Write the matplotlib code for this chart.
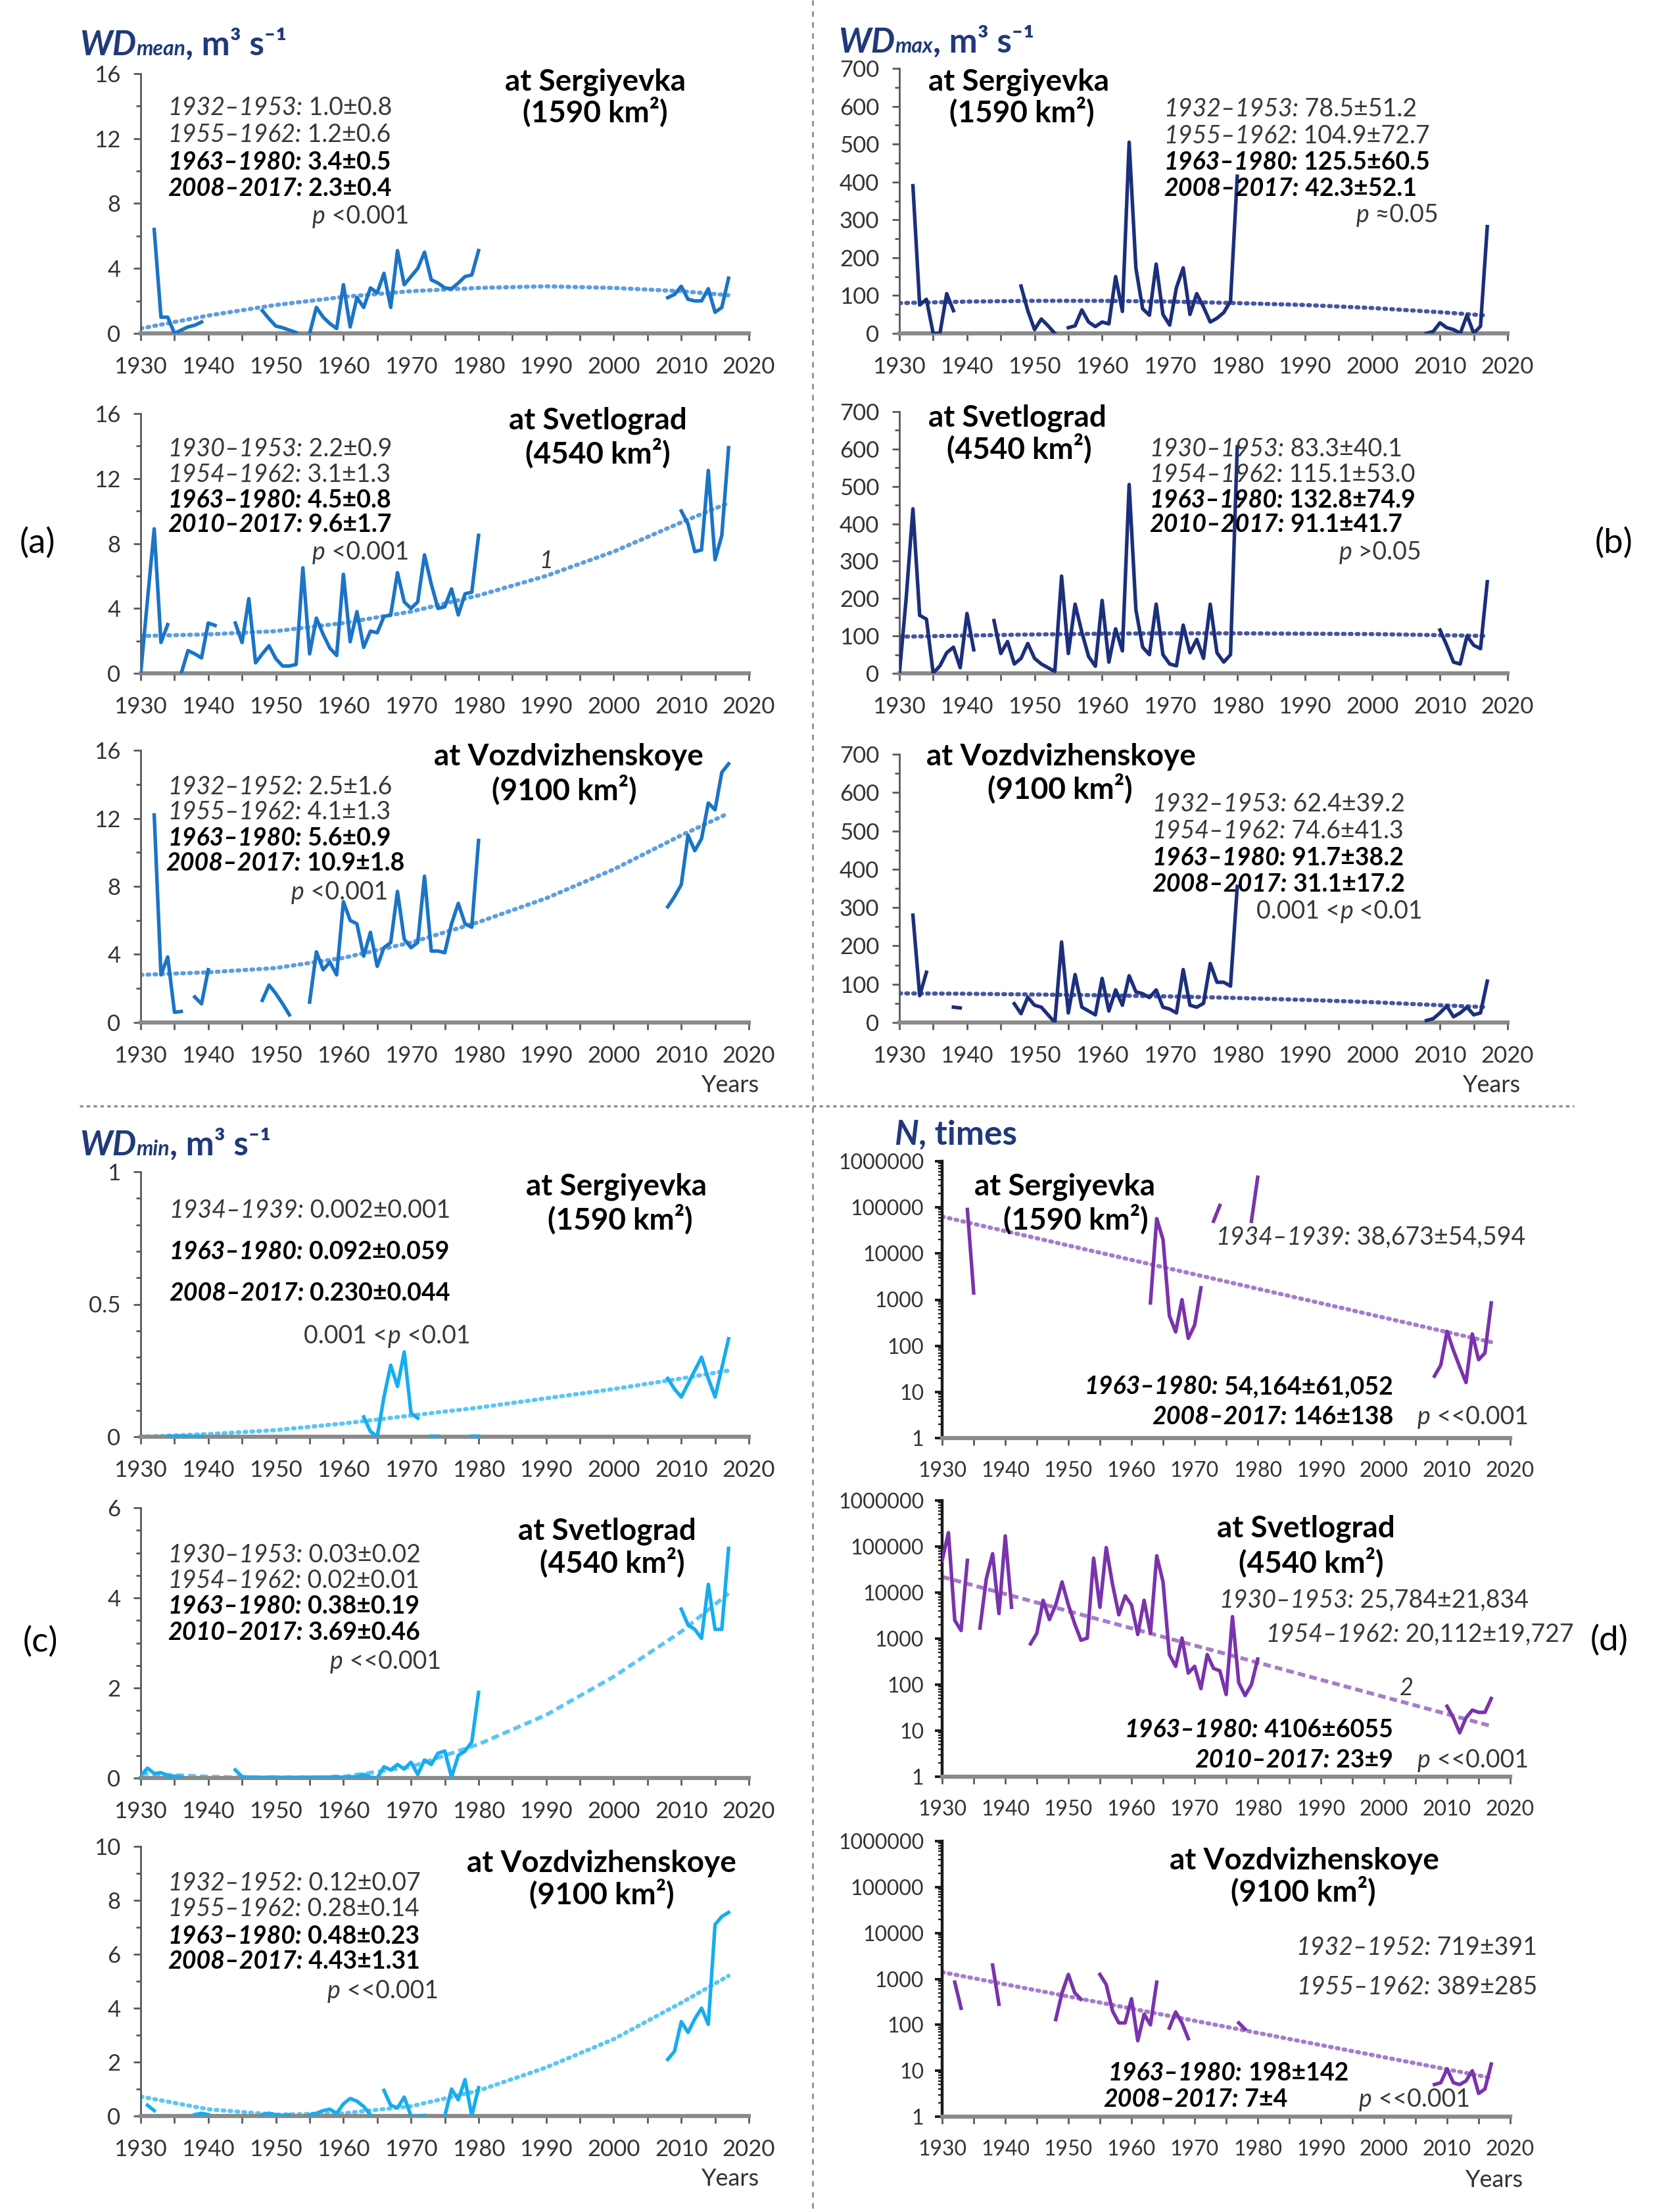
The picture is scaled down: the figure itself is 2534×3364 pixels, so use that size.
import numpy as np
import matplotlib
matplotlib.use("Agg")
import matplotlib.pyplot as plt
from matplotlib.offsetbox import TextArea, HPacker, AnnotationBbox
from matplotlib.ticker import MultipleLocator, FuncFormatter, LogLocator, NullFormatter

nan = np.nan
W, H, DPI = 2534, 3364, 100
FAM = ['Lato', 'DejaVu Sans']
plt.rcParams['font.family'] = FAM

# ---------------- data ----------------
EARLY_YEARS = list(range(1930, 1981))
LATE_YEARS = list(range(2008, 2018))
TREND_YEARS = [1930, 1940, 1950, 1960, 1970, 1980, 1990, 2000, 2010, 2017]
LOG_TREND_YEARS = [1930, 2017]

# (a) WDmean, m3/s
wdmean_serg_early = [nan, nan, 6.4, 1.0, 1.0, 0.0, 0.2, 0.4, 0.5, 0.7,
                     nan, nan, nan, nan, nan, nan, nan, nan, 1.4, 0.9,
                     0.45, 0.35, 0.2, 0.05, nan, 0.0, 1.6, 1.0, 0.6, 0.3,
                     3.0, 0.4, 2.2, 1.6, 2.8, 2.5, 3.7, 1.6, 5.1, 3.0,
                     3.5, 4.0, 5.0, 3.3, 3.1, 2.8, 2.75, 3.1, 3.5, 3.6, 5.1]
wdmean_serg_late = [2.2, 2.4, 2.9, 2.1, 2.0, 2.0, 2.75, 1.3, 1.6, 3.4]
wdmean_serg_trend = [0.3, 1.1, 1.75, 2.25, 2.6, 2.8, 2.9, 2.8, 2.6, 2.35]

wdmean_svet_early = [0.0, 4.5, 8.9, 1.9, 3.0, nan, 0.0, 1.4, 1.2, 0.95,
                     3.1, 2.95, nan, nan, 3.1, 1.9, 4.6, 0.65, 1.2, 1.7,
                     0.9, 0.45, 0.45, 0.55, 6.5, 1.2, 3.4, 2.4, 1.55, 1.1,
                     6.1, 1.95, 3.8, 1.6, 2.6, 2.5, 3.5, 3.6, 6.2, 4.4,
                     4.0, 4.4, 7.3, 5.5, 4.0, 4.1, 5.2, 3.6, 4.9, 5.0, 8.5]
wdmean_svet_late = [nan, nan, 10.0, 9.2, 7.5, 7.6, 12.5, 7.0, 8.5, 13.9]
wdmean_svet_trend = [2.3, 2.4, 2.6, 3.1, 3.8, 4.8, 6.0, 7.5, 9.3, 10.5]

wdmean_vozd_early = [nan, nan, 12.2, 2.8, 3.85, 0.6, 0.65, nan, 1.5, 1.1,
                     3.1, nan, nan, nan, nan, nan, nan, nan, 1.3, 2.2,
                     1.7, 1.1, 0.45, nan, nan, 1.2, 4.15, 3.1, 3.55, 2.8,
                     7.1, 6.0, 5.8, 3.9, 5.3, 3.3, 4.4, 4.7, 7.7, 4.9,
                     4.4, 4.7, 8.6, 4.2, 4.2, 4.1, 5.8, 7.0, 5.8, 5.6, 10.7]
wdmean_vozd_late = [6.8, 7.4, 8.1, 11.0, 10.1, 10.8, 12.9, 12.5, 14.7, 15.2]
wdmean_vozd_trend = [2.8, 2.95, 3.2, 3.8, 4.7, 5.9, 7.3, 9.0, 11.0, 12.3]

# (b) WDmax, m3/s
wdmax_serg_early = [nan, nan, 390, 75, 90, 0, 0, 105, 60, nan,
                    nan, nan, nan, nan, nan, nan, nan, nan, 125, 60,
                    10, 38, 20, 0, nan, 15, 20, 62, 30, 18,
                    30, 25, 150, 58, 505, 172, 65, 48, 183, 50,
                    22, 121, 173, 50, 105, 70, 30, 40, 55, 85, 415]
wdmax_serg_late = [0, 5, 28, 15, 10, 0, 48, 0, 19, 282]
wdmax_serg_trend = [80, 84, 86, 86, 84, 80, 75, 67, 56, 47]

wdmax_svet_early = [0, 200, 440, 155, 145, 0, 20, 55, 70, 15,
                    160, 63, nan, nan, 141, 53, 85, 25, 40, 80,
                    40, 25, 15, 5, 260, 53, 185, 110, 45, 19,
                    195, 30, 119, 60, 505, 170, 70, 50, 185, 50,
                    25, 20, 129, 55, 91, 40, 185, 55, 30, 50, 606]
wdmax_svet_late = [nan, nan, 116, 75, 30, 25, 100, 75, 66, 245]
wdmax_svet_trend = [98, 101, 104, 106, 107, 107, 106, 105, 102, 100]

wdmax_vozd_early = [nan, nan, 280, 70, 131, nan, nan, nan, 40, 38,
                    nan, nan, nan, nan, nan, nan, nan, 49, 23, 66,
                    45, 40, 20, 0, 210, 25, 125, 40, 30, 20,
                    115, 30, 85, 45, 122, 80, 75, 65, 85, 40,
                    35, 25, 138, 45, 40, 50, 154, 105, 105, 95, 355]
wdmax_vozd_late = [5, 10, 25, 43, 15, 25, 40, 20, 25, 108]
wdmax_vozd_trend = [76, 75, 73, 71, 68, 64, 59, 53, 45, 40]

# (c) WDmin, m3/s
wdmin_serg_early = [nan, nan, nan, nan, 0.002, 0.002, 0.003, 0.002, 0.001, 0.002,
                    nan, nan, nan, nan, nan, nan, nan, nan, nan, nan,
                    nan, nan, nan, nan, nan, nan, nan, nan, nan, nan,
                    nan, nan, nan, 0.075, 0.02, 0.0, 0.15, 0.27, 0.19, 0.32,
                    0.09, 0.07, nan, 0.002, 0.002, nan, nan, nan, nan, 0.002, 0.002]
wdmin_serg_late = [0.22, 0.18, 0.15, 0.20, 0.25, 0.30, 0.22, 0.15, 0.26, 0.37]
wdmin_serg_trend = [0.0, 0.01, 0.025, 0.05, 0.08, 0.11, 0.145, 0.18, 0.22, 0.25]

wdmin_svet_early = [0.05, 0.22, 0.1, 0.12, 0.05, 0.04, 0.02, nan, nan, nan,
                    nan, nan, nan, nan, 0.18, 0.03, 0.02, 0.02, 0.01, 0.02,
                    0.02, 0.01, 0.02, 0.01, 0.02, 0.01, 0.02, 0.01, 0.02, 0.03,
                    0.01, 0.03, 0.02, 0.08, 0.02, 0.0, 0.25, 0.18, 0.3, 0.2,
                    0.35, 0.08, 0.4, 0.3, 0.55, 0.6, 0.02, 0.5, 0.6, 0.8, 1.9]
wdmin_svet_late = [nan, nan, 3.75, 3.4, 3.3, 3.1, 4.3, 3.3, 3.3, 5.1]
wdmin_svet_trend = [0.1, 0.03, 0.0, 0.03, 0.25, 0.75, 1.4, 2.25, 3.25, 4.1]

wdmin_vozd_early = [nan, 0.4, 0.2, nan, nan, nan, nan, nan, 0.05, 0.1,
                    0.05, nan, nan, nan, nan, nan, nan, nan, 0.05, 0.1,
                    0.05, 0.02, 0.05, nan, nan, 0.05, 0.1, 0.2, 0.25, 0.1,
                    0.45, 0.65, 0.55, 0.35, 0.05, nan, 0.95, 0.4, 0.3, 0.7,
                    0.0, 0.0, 0.02, nan, nan, 0.0, 1.0, 0.6, 1.35, 0.0, 1.05]
wdmin_vozd_late = [2.1, 2.4, 3.5, 3.1, 3.6, 4.0, 3.4, 7.1, 7.4, 7.55]
wdmin_vozd_trend = [0.72, 0.25, 0.05, 0.1, 0.36, 0.94, 1.8, 2.85, 4.2, 5.2]

# (d) N, times
n_serg_early = [nan, nan, nan, nan, 90000, 1400, nan, nan, nan, nan,
                nan, nan, nan, nan, nan, nan, nan, nan, nan, nan,
                nan, nan, nan, nan, nan, nan, nan, nan, nan, nan,
                nan, nan, nan, 850, 57000, 20000, 450, 200, 1000, 145,
                280, 1800, nan, 50000, 110000, nan, nan, nan, nan, 50000, 450000]
n_serg_late = [22, 38, 205, 80, 35, 16, 180, 50, 70, 850]
n_serg_trend = [63000, 120]

n_svet_early = [50000, 200000, 2500, 1500, 50000, nan, 1700, 20000, 70000, 3500,
                170000, 4800, nan, nan, 770, 1300, 6800, 2600, 5400, 17000,
                5400, 2100, 920, 1030, 56000, 4800, 95000, 15000, 3300, 8500,
                5400, 1230, 6800, 1300, 63000, 17000, 450, 250, 1030, 178,
                250, 82, 450, 225, 200, 61, 3000, 110, 58, 100, 360]
n_svet_late = [nan, nan, 34, 19, 9, 19, 28, 25, 25, 50]
n_svet_trend = [22000, 12.6]

n_vozd_early = [nan, nan, 850, 230, nan, nan, nan, nan, 2000, 280,
                nan, nan, nan, nan, nan, nan, nan, nan, 130, 500,
                1250, 500, 360, nan, nan, 1250, 750, 200, 110, 110,
                370, 45, 170, 100, 850, nan, 85, 190, 110, 50,
                nan, nan, nan, nan, nan, nan, nan, 110, 80, nan, nan]
n_vozd_late = [5, 5.5, 11, 5.5, 5, 6, 10, 3.2, 4, 14]
n_vozd_trend = [1400, 7]

# ---------------- style ----------------
C_A, T_A = '#1b74c6', '#5d9fde'
C_B, T_B = '#1c2f7c', '#4656a0'
C_C, T_C = '#16adef', '#5cc6f3'
C_D, T_D = '#7a33ac', '#a67ccb'
NAVY = '#1f3a7a'
GRAY = '#383838'
STAT_SIZE = 27
STATION_SIZE = 33

fig = plt.figure(figsize=(W / DPI, H / DPI), dpi=DPI)
fig.patch.set_facecolor('white')
bg = fig.add_axes([0, 0, 1, 1], zorder=5)
bg.set_xlim(0, W)
bg.set_ylim(H, 0)
bg.axis('off')


def new_ax(xr, yr):
    x0, x1 = xr
    yt, yb = yr
    return fig.add_axes([x0 / W, 1 - yb / H, (x1 - x0) / W, (yb - yt) / H])


def style(ax, ylim, major=None, minor=None, log=False, labsize=25):
    ax.set_xlim(1930, 2020)
    ax.patch.set_alpha(0)
    for s in ('top', 'right'):
        ax.spines[s].set_visible(False)
    ax.spines['bottom'].set_color('#8a8a8a')
    ax.spines['bottom'].set_linewidth(4.5)
    ax.spines['left'].set_color('#1a1a1a' if log else '#595959')
    ax.spines['left'].set_linewidth(3.2 if log else 2)
    ax.xaxis.set_major_locator(MultipleLocator(10))
    ax.xaxis.set_minor_locator(MultipleLocator(5))
    ax.tick_params(axis='x', which='both', direction='out', length=8, width=2,
                   color='#595959', pad=17, labelsize=labsize, labelcolor='#333333')
    if log:
        ax.set_yscale('log')
        ax.set_ylim(*ylim)
        ax.yaxis.set_major_locator(LogLocator(base=10, numticks=10))
        ax.yaxis.set_minor_locator(LogLocator(base=10, subs=np.arange(2, 10), numticks=10))
        ax.yaxis.set_minor_formatter(NullFormatter())
        ax.yaxis.set_major_formatter(FuncFormatter(lambda v, p: f'{int(round(v))}'))
        ax.tick_params(axis='y', which='major', direction='out', length=8, width=2.8,
                       color='#1a1a1a', pad=12, labelsize=labsize, labelcolor='#333333')
        ax.tick_params(axis='y', which='minor', direction='out', length=4, width=1.6,
                       color='#1a1a1a')
    else:
        ax.set_ylim(*ylim)
        ax.yaxis.set_major_locator(MultipleLocator(major))
        ax.yaxis.set_minor_locator(MultipleLocator(minor))
        ax.yaxis.set_major_formatter(FuncFormatter(lambda v, p: f'{v:g}'))
        ax.tick_params(axis='y', which='major', direction='out', length=8, width=2,
                       color='#595959', pad=14, labelsize=labsize, labelcolor='#333333')
        ax.tick_params(axis='y', which='minor', direction='out', length=5, width=2,
                       color='#595959')


def draw(ax, early, late, trend, color, tcolor, trend_years=TREND_YEARS, dashed=False):
    xs = EARLY_YEARS + [1994] + LATE_YEARS
    ys = list(early) + [nan] + list(late)
    if dashed:
        ax.plot(trend_years, trend, color=tcolor, lw=4.2, linestyle=(0, (2.0, 1.1)),
                dash_capstyle='butt', zorder=2)
    else:
        ax.plot(trend_years, trend, color=tcolor, lw=4.6, linestyle=(0, (0.4, 1.25)),
                dash_capstyle='round', zorder=2)
    ax.plot(xs, ys, color=color, lw=3.9, zorder=3, solid_joinstyle='round')


def rich(parts, x, y, ha='left', size=STAT_SIZE):
    areas = []
    for t, p in parts:
        props = dict(family=FAM, color=GRAY, fontsize=size)
        props.update(p)
        areas.append(TextArea(t, textprops=props))
    box = HPacker(children=areas, align='baseline', pad=0, sep=0)
    bx = {'left': 0.0, 'right': 1.0, 'center': 0.5}[ha]
    ab = AnnotationBbox(box, (x, y), xycoords='data', box_alignment=(bx, 0.5),
                        frameon=False, pad=0, annotation_clip=False)
    bg.add_artist(ab)


def stat(period, value, bold, x, y, ha='left', size=STAT_SIZE):
    col = '#000000' if bold else GRAY
    w = 'bold' if bold else 'normal'
    rich([(period, dict(style='italic', weight=w, color=col)),
          (' ' + value, dict(weight=w, color=col))], x, y, ha=ha, size=size)


def pline(pre, post, x, y, ha='right', size=STAT_SIZE):
    parts = []
    if pre:
        parts.append((pre, dict()))
    parts.append(('p', dict(style='italic')))
    parts.append((post, dict()))
    rich(parts, x, y, ha=ha, size=size)


def station(name, area, x, y1, y2, x2=None, size=STATION_SIZE):
    bg.text(x, y1, name, ha='center', va='center', fontsize=size, weight='bold', color='black')
    bg.text(x2 if x2 is not None else x, y2, area, ha='center', va='center',
            fontsize=size, weight='bold', color='black')


def ylabel(main, sub, rest, x, y):
    parts = [(main, dict(weight='bold', style='italic', color=NAVY, fontsize=37))]
    if sub:
        parts.append((sub, dict(weight='bold', style='italic', color=NAVY, fontsize=23)))
    parts.append((rest, dict(weight='bold', color=NAVY, fontsize=37)))
    rich(parts, x, y, ha='left')


LEFT_X = (214, 1139)
B_X = (1368, 2293)
D_X = (1433, 2297)

# ---------- (a) ----------
ax = new_ax(LEFT_X, (112, 507))
style(ax, (0, 16), 4, 2)
draw(ax, wdmean_serg_early, wdmean_serg_late, wdmean_serg_trend, C_A, T_A)
ax = new_ax(LEFT_X, (629, 1024))
style(ax, (0, 16), 4, 2)
draw(ax, wdmean_svet_early, wdmean_svet_late, wdmean_svet_trend, C_A, T_A)
ax.text(1990, 6.9, '1', fontsize=26, style='italic', color=GRAY, ha='center', va='center')
ax = new_ax(LEFT_X, (1141, 1555))
style(ax, (0, 16), 4, 2)
draw(ax, wdmean_vozd_early, wdmean_vozd_late, wdmean_vozd_trend, C_A, T_A)

# ---------- (b) ----------
ax = new_ax(B_X, (104, 507))
style(ax, (0, 700), 100, 50)
draw(ax, wdmax_serg_early, wdmax_serg_late, wdmax_serg_trend, C_B, T_B)
ax = new_ax(B_X, (626, 1024))
style(ax, (0, 700), 100, 50)
draw(ax, wdmax_svet_early, wdmax_svet_late, wdmax_svet_trend, C_B, T_B)
ax = new_ax(B_X, (1147, 1555))
style(ax, (0, 700), 100, 50)
draw(ax, wdmax_vozd_early, wdmax_vozd_late, wdmax_vozd_trend, C_B, T_B)

# ---------- (c) ----------
ax = new_ax(LEFT_X, (1782, 2185))
style(ax, (0, 1), 0.5, 0.1)
draw(ax, wdmin_serg_early, wdmin_serg_late, wdmin_serg_trend, C_C, T_C)
ax = new_ax(LEFT_X, (2293, 2704))
style(ax, (0, 6), 2, 0.5)
draw(ax, wdmin_svet_early, wdmin_svet_late, wdmin_svet_trend, C_C, T_C, dashed=True)
ax = new_ax(LEFT_X, (2808, 3218))
style(ax, (0, 10), 2, 1)
draw(ax, wdmin_vozd_early, wdmin_vozd_late, wdmin_vozd_trend, C_C, T_C)

# ---------- (d) ----------
ax = new_ax(D_X, (1766, 2187))
style(ax, (1, 1e6), log=True, labsize=23)
draw(ax, n_serg_early, n_serg_late, n_serg_trend, C_D, T_D, trend_years=LOG_TREND_YEARS)
ax = new_ax(D_X, (2282, 2702))
style(ax, (1, 1e6), log=True, labsize=23)
draw(ax, n_svet_early, n_svet_late, n_svet_trend, C_D, T_D, trend_years=LOG_TREND_YEARS, dashed=True)
ax.text(2003.6, 83, '2', fontsize=26, style='italic', color=GRAY, ha='center', va='center')
ax = new_ax(D_X, (2800, 3219))
style(ax, (1, 1e6), log=True, labsize=23)
draw(ax, n_vozd_early, n_vozd_late, n_vozd_trend, C_D, T_D, trend_years=LOG_TREND_YEARS)

# ---------------- texts ----------------
ylabel('WD', 'mean', ', m³ s⁻¹', 121, 68)
ylabel('WD', 'max', ', m³ s⁻¹', 1275, 64)
ylabel('WD', 'min', ', m³ s⁻¹', 121, 1741)
ylabel('N', '', ', times', 1360, 1726)

# (a) stats
stat('1932–1953:', '1.0±0.8', False, 255, 164)
stat('1955–1962:', '1.2±0.6', False, 255, 205)
stat('1963–1980:', '3.4±0.5', True, 255, 246)
stat('2008–2017:', '2.3±0.4', True, 255, 286)
pline('', ' <0.001', 622, 329)
station('at Sergiyevka', '(1590 km²)', 905, 125, 171)

stat('1930–1953:', '2.2±0.9', False, 255, 683)
stat('1954–1962:', '3.1±1.3', False, 255, 722)
stat('1963–1980:', '4.5±0.8', True, 255, 760)
stat('2010–2017:', '9.6±1.7', True, 255, 797)
pline('', ' <0.001', 622, 840)
station('at Svetlograd', '(4540 km²)', 909, 640, 690)

stat('1932–1952:', '2.5±1.6', False, 255, 1197)
stat('1955–1962:', '4.1±1.3', False, 255, 1235)
stat('1963–1980:', '5.6±0.9', True, 255, 1275)
stat('2008–2017:', '10.9±1.8', True, 252, 1313)
pline('', ' <0.001', 590, 1357)
station('at Vozdvizhenskoye', '(9100 km²)', 865, 1151, 1202, x2=858)

# (b) stats
stat('1932–1953:', '78.5±51.2', False, 1770, 166)
stat('1955–1962:', '104.9±72.7', False, 1770, 207)
stat('1963–1980:', '125.5±60.5', True, 1770, 246)
stat('2008–2017:', '42.3±52.1', True, 1770, 286)
pline('', ' ≈0.05', 2188, 327)
station('at Sergiyevka', '(1590 km²)', 1550, 125, 171, x2=1554)

stat('1930–1953:', '83.3±40.1', False, 1748, 683)
stat('1954–1962:', '115.1±53.0', False, 1748, 722)
stat('1963–1980:', '132.8±74.9', True, 1748, 760)
stat('2010–2017:', '91.1±41.7', True, 1748, 797)
pline('', ' >0.05', 2162, 840)
station('at Svetlograd', '(4540 km²)', 1547, 636, 683, x2=1550)

stat('1932–1953:', '62.4±39.2', False, 1752, 1223)
stat('1954–1962:', '74.6±41.3', False, 1752, 1264)
stat('1963–1980:', '91.7±38.2', True, 1752, 1304)
stat('2008–2017:', '31.1±17.2', True, 1752, 1344)
pline('0.001 <', ' <0.01', 2164, 1386)
station('at Vozdvizhenskoye', '(9100 km²)', 1614, 1151, 1200, x2=1612)

# (c) stats
stat('1934–1939:', '0.002±0.001', False, 257, 1841)
stat('1963–1980:', '0.092±0.059', True, 257, 1903)
stat('2008–2017:', '0.230±0.044', True, 257, 1966)
pline('0.001 <', ' <0.01', 715, 2032)
station('at Sergiyevka', '(1590 km²)', 937, 1805, 1855, x2=943)

stat('1930–1953:', '0.03±0.02', False, 255, 2365)
stat('1954–1962:', '0.02±0.01', False, 255, 2404)
stat('1963–1980:', '0.38±0.19', True, 255, 2443)
stat('2010–2017:', '3.69±0.46', True, 255, 2482)
pline('', ' <<0.001', 671, 2527)
station('at Svetlograd', '(4540 km²)', 923, 2329, 2377, x2=931)

stat('1932–1952:', '0.12±0.07', False, 255, 2864)
stat('1955–1962:', '0.28±0.14', False, 255, 2903)
stat('1963–1980:', '0.48±0.23', True, 255, 2944)
stat('2008–2017:', '4.43±1.31', True, 255, 2983)
pline('', ' <<0.001', 667, 3028)
station('at Vozdvizhenskoye', '(9100 km²)', 915, 2834, 2881)

# (d) stats
stat('1934–1939:', '38,673±54,594', False, 1849, 1882)
stat('1963–1980:', '54,164±61,052', True, 2119, 2109, ha='right')
stat('2008–2017:', '146±138', True, 2119, 2155, ha='right')
pline('', ' <<0.001', 2156, 2155, ha='left')
station('at Sergiyevka', '(1590 km²)', 1620, 1805, 1855, x2=1636)

stat('1930–1953:', '25,784±21,834', False, 2325, 2434, ha='right')
stat('1954–1962:', '20,112±19,727', False, 2394, 2486, ha='right')
stat('1963–1980:', '4106±6055', True, 2119, 2631, ha='right')
stat('2010–2017:', '23±9', True, 2119, 2677, ha='right')
pline('', ' <<0.001', 2156, 2677, ha='left')
station('at Svetlograd', '(4540 km²)', 1986, 2325, 2377, x2=1994)

stat('1932–1952:', '719±391', False, 2338, 2962, ha='right')
stat('1955–1962:', '389±285', False, 2338, 3022, ha='right')
stat('1963–1980:', '198±142', True, 2051, 3152, ha='right')
stat('2008–2017:', '7±4', True, 1958, 3193, ha='right')
pline('', ' <<0.001', 2067, 3193, ha='left')
station('at Vozdvizhenskoye', '(9100 km²)', 1984, 2830, 2877, x2=1982)

# panel letters
for lab, x, y in (('(a)', 57, 826), ('(b)', 2455, 826), ('(c)', 61, 2497), ('(d)', 2448, 2495)):
    bg.text(x, y, lab, ha='center', va='center', fontsize=38, color='black')

# Years labels
for x, y in ((1111, 1650), (2269, 1650), (1111, 3313), (2273, 3316)):
    bg.text(x, y, 'Years', ha='center', va='center', fontsize=26, color='#333333')

# separators
bg.plot([1236, 1236], [0, H], color='#8f8f8f', lw=2, linestyle=(0, (3, 3)))
bg.plot([121, 2394], [1682, 1682], color='#8f8f8f', lw=2.5, linestyle=(0, (1.5, 1.5)))

fig.savefig('out.png', dpi=DPI, facecolor='white')
